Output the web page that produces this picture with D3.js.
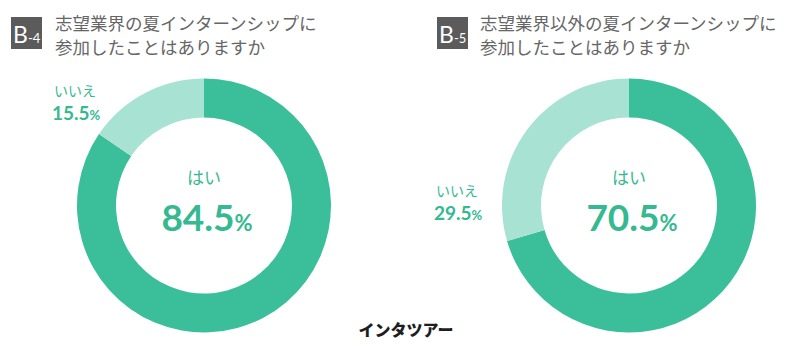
<!DOCTYPE html>
<html>
<head>
<meta charset="utf-8">
<script src="https://cdn.jsdelivr.net/npm/d3@7"></script>
<style>
  html, body { margin: 0; padding: 0; background: #fff; }
  svg { display: block; }
  text { font-family: "Noto Sans CJK JP", "Noto Sans", sans-serif; }
  .num { font-family: Lato, "Noto Sans", sans-serif; font-weight: 700; }
</style>
</head>
<body>
<svg id="chart" width="811" height="350"></svg>
<script>
// Survey answers for the two questions
const answerLabels = ["はい", "いいえ"];
const b4Values = [84.5, 15.5];
const b5Values = [70.5, 29.5];
const panelCodes = ["4", "5"];
const panelTitles = [
  ["志望業界の夏インターンシップに", "参加したことはありますか"],
  ["志望業界以外の夏インターンシップに", "参加したことはありますか"]
];
const sliceColors = ["#3bbf9a", "#a8e2d3"];
const brand = "インタツアー";

const svg = d3.select("#chart");
const textGreen = "#35b991";

const panels = [
  { values: b4Values, cx: 204, badgeX: 11, titleX: 55,
    noPos: [75, 90] },
  { values: b5Values, cx: 629, badgeX: 437, titleX: 480,
    noPos: [457, 190] }
];
const cy = 205.5, outerR = 127, innerR = 88;

const pie = d3.pie().sort(null).value(d => d);
const arc = d3.arc().innerRadius(innerR).outerRadius(outerR);

panels.forEach((p, i) => {
  // header badge
  const badge = svg.append("g").attr("transform", `translate(${p.badgeX},17)`);
  badge.append("rect").attr("width", 31).attr("height", 32).attr("fill", "#5b5b5b");
  const bt = badge.append("text").attr("x", 2).attr("y", 26)
    .attr("fill", "#fff").style("font-family", "Lato, sans-serif");
  bt.append("tspan").attr("font-size", 23).text("B");
  bt.append("tspan").attr("font-size", 13).text("-" + panelCodes[i]);

  // two-line question
  const t = svg.append("text").attr("fill", "#666").attr("font-size", 17.5);
  panelTitles[i].forEach((line, k) => {
    t.append("tspan").attr("x", p.titleX).attr("y", 30 + k * 24).text(line);
  });

  // donut
  const g = svg.append("g").attr("transform", `translate(${p.cx},${cy})`);
  g.selectAll("path").data(pie(p.values)).join("path")
    .attr("d", arc).attr("fill", (d, j) => sliceColors[j]);

  // centre label ("はい")
  g.append("text").attr("text-anchor", "middle").attr("y", -22)
    .attr("font-size", 17).attr("fill", textGreen).text(answerLabels[0]);
  const big = g.append("text").attr("class", "num").attr("text-anchor", "middle")
    .attr("x", 3).attr("y", 25).attr("fill", textGreen);
  big.append("tspan").attr("font-size", 37).text(p.values[0].toFixed(1));
  big.append("tspan").attr("font-size", 22).text("%");

  // outside label ("いいえ")
  const [nx, ny] = p.noPos;
  svg.append("text").attr("x", nx).attr("y", ny + 6).attr("text-anchor", "middle")
    .attr("font-size", 14).attr("fill", textGreen).text(answerLabels[1]);
  const small = svg.append("text").attr("class", "num").attr("text-anchor", "middle")
    .attr("x", nx + 1).attr("y", ny + 30).attr("fill", textGreen);
  small.append("tspan").attr("font-size", 19).text(p.values[1].toFixed(1));
  small.append("tspan").attr("font-size", 13).text("%");
});

// brand mark at the bottom
svg.append("text").attr("x", 406).attr("y", 336).attr("text-anchor", "middle")
  .attr("font-size", 16).attr("font-weight", 900).attr("fill", "#1e1e1e")
  .text(brand);
</script>
</body>
</html>
